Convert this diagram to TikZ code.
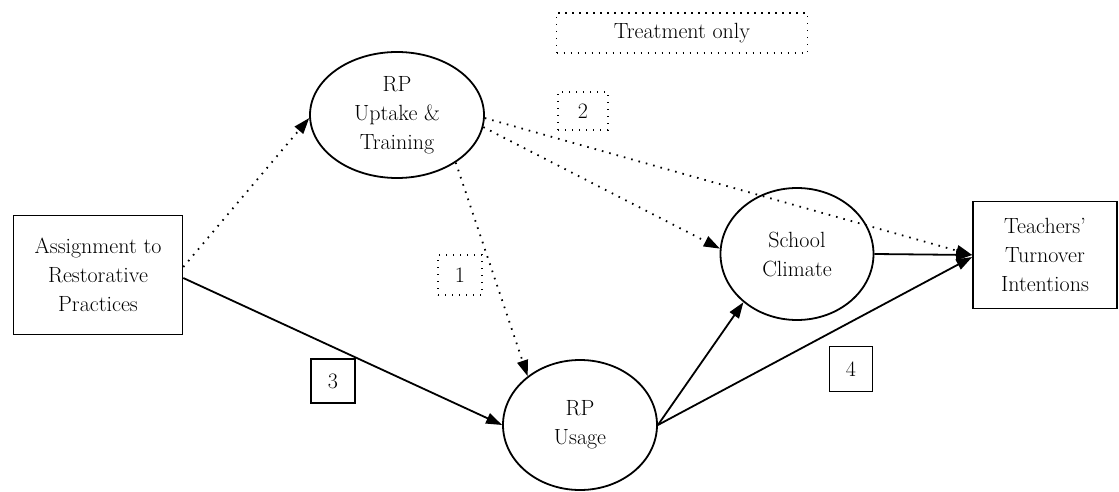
\documentclass[tikz,border=0pt]{standalone}
\usetikzlibrary{shapes.geometric,arrows.meta}
\begin{document}
\begin{tikzpicture}[x=1pt,y=-1pt,
  every node/.style={font=\fontsize{22}{29}\selectfont, align=center, inner sep=0pt},
  boxnode/.style={draw, line width=1.6pt, rectangle},
  oval/.style={draw, line width=1.8pt, ellipse},
  dotbox/.style={draw, line width=1.4pt, rectangle, dash pattern=on 1.4pt off 5.6pt},
  solidarrow/.style={line width=1.8pt, -{Triangle[length=16pt,width=11pt]}},
  dotarrow/.style={line width=1.8pt, dash pattern=on 1.6pt off 6pt, -{Triangle[length=16pt,width=11pt]}}
]
\useasboundingbox (0,0) rectangle (1119,492);

% variables
\node[boxnode, minimum width=169pt, minimum height=119pt] (asg) at (98,275)
  {Assignment to\\Restorative\\Practices};
\node[oval, minimum width=174pt, minimum height=126pt] (upt) at (397,115)
  {RP\\Uptake \&\\Training};
\node[oval, minimum width=154pt, minimum height=130pt] (use) at (580,425)
  {RP\\Usage};
\node[oval, minimum width=153pt, minimum height=132pt] (sch) at (797,254)
  {School\\Climate};
\node[boxnode, minimum width=144pt, minimum height=107pt] (tch) at (1045,255)
  {Teachers'\\Turnover\\Intentions};

% legend and path labels
\node[dotbox, minimum width=251pt, minimum height=40pt] (leg) at (682,33) {Treatment only};
\node[dotbox, minimum width=50pt, minimum height=38pt] (p2) at (583,111) {2};
\node[dotbox, minimum width=44pt, minimum height=40pt] (p1) at (460,275) {1};
\node[boxnode, line width=1.4pt, minimum width=44pt, minimum height=44pt] (p3) at (333,381) {3};
\node[boxnode, line width=1.4pt, minimum width=43pt, minimum height=45pt] (p4) at (851,369) {4};

% treatment-only paths
\draw[dotarrow] ([yshift=8pt]asg.east) -- (upt.182);
\draw[dotarrow] (upt.-39) -- (use.137);
\draw[dotarrow] (upt.-8) -- (sch.176);
\draw[dotarrow] (upt.-2) -- (tch.west);

% paths for all schools
\draw[solidarrow] ([yshift=-3pt]asg.east) -- (use.180);
\draw[solidarrow] (use.east) -- (sch.222);
\draw[solidarrow] (use.east) -- ([yshift=-2pt]tch.west);
\draw[solidarrow] (sch.east) -- (tch.west);
\end{tikzpicture}
\end{document}
